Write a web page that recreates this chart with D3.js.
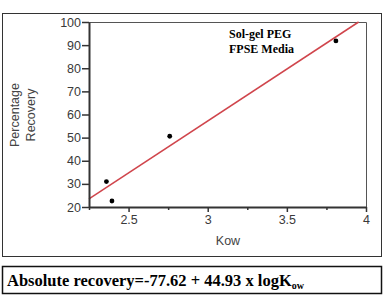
<!DOCTYPE html>
<html>
<head>
<meta charset="utf-8">
<script src="https://cdn.jsdelivr.net/npm/d3@7"></script>
<style>
body { margin: 0; background: #fff; }
</style>
</head>
<body>
<script>
var svg = d3.select("body").append("svg")
      .attr("width", 386)
      .attr("height", 296)

var margin = {left: 89, right: 20, top: 22, bottom: 89}
var width = 366 - margin.left;
var height = 207 - margin.top;

// data
var kow = [2.36, 2.395, 2.76, 3.81];
var recovery = [31, 22.6, 50.6, 91.8];
var xTicks = [2.5, 3, 3.5, 4];
var xMinor = [2.25, 2.75, 3.25, 3.75];
var yTicks = [20, 30, 40, 50, 60, 70, 80, 90, 100];
var intercept = -77.62, slope = 44.93;
var fitX = [2.25, (100 - intercept) / slope];

var x = d3.scaleLinear().domain([2.25, 4]).range([0, width]);
var y = d3.scaleLinear().domain([20, 100]).range([height, 0]);

// outer frames
svg.append("rect").attr("x", 2.5).attr("y", 13.5).attr("width", 379).attr("height", 243)
  .attr("fill", "none").attr("stroke", "#333").attr("stroke-width", 1);
svg.append("rect").attr("x", 2.5).attr("y", 266.5).attr("width", 379).attr("height", 27)
  .attr("fill", "none").attr("stroke", "#111").attr("stroke-width", 1.5);

var g = svg.append("g")
    .attr("transform", "translate(" + margin.left + "," + margin.top + ")");

// plot border (top and right)
g.append("path")
  .attr("d", "M0,0.5H" + (width + 0.5) + "V" + height)
  .attr("fill", "none").attr("stroke", "#555").attr("stroke-width", 1);

// fit line
var line = d3.line()
  .x(function(d) { return x(d); })
  .y(function(d) { return y(intercept + slope * d); });
g.append("path")
  .datum(fitX)
  .attr("d", line)
  .attr("fill", "none")
  .attr("stroke", "#d0454c")
  .attr("stroke-width", 1.5);

// points
g.selectAll(".pt").data(kow).enter().append("circle")
  .attr("cx", function(d) { return x(d); })
  .attr("cy", function(d, i) { return y(recovery[i]); })
  .attr("r", 2.4)
  .attr("fill", "#000");

// x axis
var xa = g.append("g")
  .attr("transform", "translate(0," + height + ")")
  .call(d3.axisBottom(x).tickValues(xTicks).tickSize(5).tickSizeOuter(0).tickFormat(d3.format("")));
g.append("g")
  .attr("transform", "translate(0," + height + ")")
  .call(d3.axisBottom(x).tickValues(xMinor).tickSize(3).tickFormat(""))
  .select(".domain").remove();

// y axis
var ya = g.append("g")
  .call(d3.axisLeft(y).tickValues(yTicks).tickSize(7).tickSizeOuter(0));

[xa, ya].forEach(function(a) {
  a.select(".domain").attr("stroke", "#333").attr("stroke-width", 2);
  a.selectAll("text").attr("font-family", "Liberation Sans, Arial, sans-serif")
    .attr("font-size", 12.5).attr("fill", "#3a3a3a");
});
g.selectAll(".tick line").attr("stroke", "#333").attr("stroke-width", 1.5);
ya.selectAll("text").attr("x", -8);
xa.selectAll("text").attr("y", 8);

// axis titles
svg.append("text")
  .attr("x", 228).attr("y", 245)
  .attr("text-anchor", "middle")
  .attr("font-family", "Liberation Sans, Arial, sans-serif")
  .attr("font-size", 12.5).attr("fill", "#444")
  .text("Kow");

var yl = svg.append("text")
  .attr("transform", "translate(0,115) rotate(-90)")
  .attr("text-anchor", "middle")
  .attr("font-family", "Liberation Sans, Arial, sans-serif")
  .attr("font-size", 12.5).attr("fill", "#444");
yl.append("tspan").attr("x", 0).attr("y", 19).text("Percentage");
yl.append("tspan").attr("x", 0).attr("y", 35).text("Recovery");

// annotation
var ann = svg.append("text")
  .attr("font-family", "Liberation Serif, Times New Roman, serif")
  .attr("font-weight", "bold").attr("font-size", 12).attr("fill", "#000");
ann.append("tspan").attr("x", 229).attr("y", 38).text("Sol-gel PEG");
ann.append("tspan").attr("x", 229).attr("y", 53).text("FPSE Media");

// equation
var eq = svg.append("text")
  .attr("x", 7).attr("y", 286)
  .attr("font-family", "Liberation Serif, Times New Roman, serif")
  .attr("font-weight", "bold").attr("font-size", 16.5).attr("fill", "#000");
eq.append("tspan").text("Absolute recovery=-77.62 + 44.93 x logK");
eq.append("tspan").attr("font-size", 10).attr("dy", 3).text("ow");
</script>
</body>
</html>
